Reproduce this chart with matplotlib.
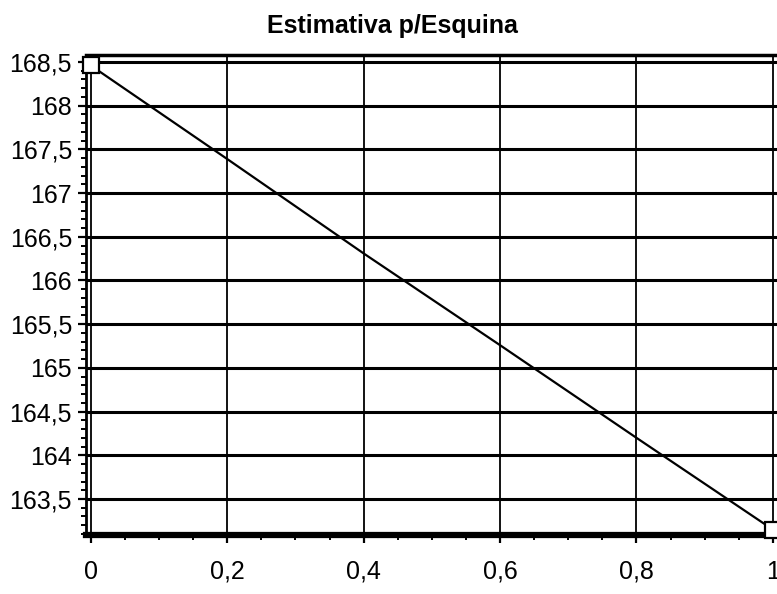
import matplotlib
matplotlib.use("Agg")
import matplotlib.pyplot as plt
from matplotlib.ticker import FixedLocator, FuncFormatter, MultipleLocator

# values
x_vals = [0.0, 0.2, 0.4, 0.6, 0.8, 1.0]
y_vals = [168.46, 167.39, 166.31, 165.26, 164.20, 163.15]
x_ticks = [0, 0.2, 0.4, 0.6, 0.8, 1]
y_ticks = [163.5, 164, 164.5, 165, 165.5, 166, 166.5, 167, 167.5, 168, 168.5]
title = "Estimativa p/Esquina"

plt.rcParams["font.family"] = ["Liberation Sans", "DejaVu Sans"]


def comma(v, _pos=None):
    s = f"{v:.1f}".rstrip("0").rstrip(".")
    return s.replace(".", ",")


fig = plt.figure(figsize=(7.77, 5.94), dpi=100)
ax = fig.add_axes([86 / 777, 1 - 535 / 594, (779 - 86) / 777, (535 - 55) / 594])

ax.plot(x_vals, y_vals, color="k", lw=1.6, marker="s", markevery=[0, len(x_vals) - 1],
        markersize=11, markerfacecolor="white", markeredgecolor="k", markeredgewidth=1.6,
        clip_on=False, zorder=5)

ax.set_xlim(-0.007, 1.009)
ax.set_ylim(163.088, 168.58)

ax.xaxis.set_major_locator(FixedLocator(x_ticks))
ax.yaxis.set_major_locator(FixedLocator(y_ticks))
ax.xaxis.set_minor_locator(MultipleLocator(0.05))
ax.yaxis.set_minor_locator(MultipleLocator(0.1))
ax.xaxis.set_major_formatter(FuncFormatter(comma))
ax.yaxis.set_major_formatter(FuncFormatter(comma))

ax.tick_params(axis="both", which="major", direction="out", length=6, width=1.6,
               labelsize=18, color="k", pad=4)
ax.tick_params(axis="both", which="minor", direction="out", length=3.5, width=1.4, color="k")
ax.tick_params(axis="x", which="major", pad=12)

for v in y_ticks:
    ax.axhline(v, color="k", lw=2.2, zorder=1)
for v in x_ticks:
    ax.axvline(v, color="k", lw=1.3, zorder=1)

ax.spines["bottom"].set_linewidth(4.5)
ax.spines["top"].set_linewidth(2.5)
ax.spines["left"].set_linewidth(2.0)
ax.spines["right"].set_linewidth(2.0)

fig.text(0.505, 1 - 33 / 594, title, ha="center", va="baseline",
         fontsize=18, fontweight="bold")

fig.savefig("out.png", dpi=100)
